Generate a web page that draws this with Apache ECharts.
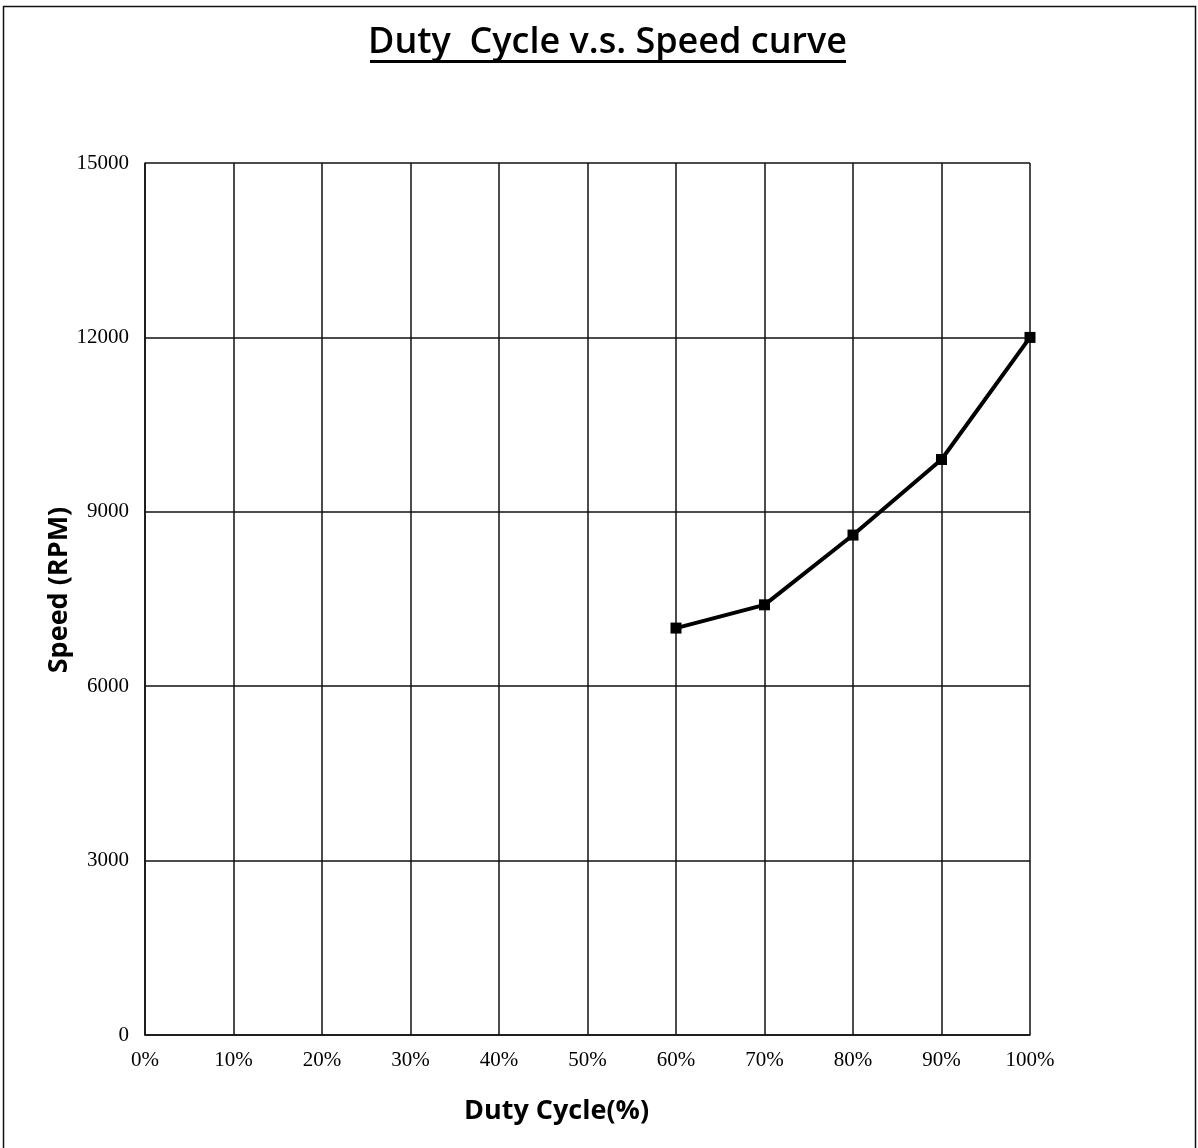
<!DOCTYPE html>
<html>
<head>
<meta charset="utf-8">
<script src="https://cdn.jsdelivr.net/npm/echarts@6/dist/echarts.min.js"></script>
<style>
html,body{margin:0;padding:0;background:#fff;}
#chart{width:1198px;height:1148px;}
</style>
</head>
<body>
<div id="chart"></div>
<script>
const titleText = 'Duty  Cycle v.s. Speed curve';
const xName = 'Duty Cycle(%)';
const yName = 'Speed (RPM)';
const dutyCycle = [60, 70, 80, 90, 100];
const speedRPM = [7000, 7400, 8600, 9900, 12000];
const xTicks = [0, 10, 20, 30, 40, 50, 60, 70, 80, 90, 100];
const yTicks = [0, 3000, 6000, 9000, 12000, 15000];

const chart = echarts.init(document.getElementById('chart'));
const seriesData = dutyCycle.map((d, i) => [d, speedRPM[i]]);
const tickFont = {fontFamily: 'Liberation Serif', fontSize: 21, color: '#000'};
const nameFont = {fontFamily: 'Open Sans', fontWeight: 'bold', fontSize: 27, color: '#000'};

chart.setOption({
  backgroundColor: '#fff',
  animation: false,
  title: {
    text: titleText,
    left: 368,
    top: 25,
    padding: 0,
    textStyle: {fontFamily: 'Open Sans', fontWeight: 600, fontSize: 36, color: '#000'}
  },
  graphic: [
    {type: 'rect', shape: {x: 3.5, y: 6.5, width: 1192, height: 1170}, style: {fill: 'none', stroke: '#111', lineWidth: 1.5}, silent: true},
    {type: 'rect', shape: {x: 370, y: 60, width: 476, height: 3}, style: {fill: '#000'}, silent: true}
  ],
  grid: {left: 145, right: 168, top: 163, bottom: 113, containLabel: false},
  xAxis: {
    type: 'value',
    min: xTicks[0],
    max: xTicks[xTicks.length - 1],
    interval: 10,
    name: xName,
    nameLocation: 'middle',
    nameGap: 63,
    nameTextStyle: Object.assign({}, nameFont, {padding: [0, 62, 0, 0]}),
    axisLine: {show: true, lineStyle: {color: '#111', width: 1.5}},
    axisTick: {show: false},
    splitLine: {show: true, lineStyle: {color: '#111', width: 1.5}},
    axisLabel: Object.assign({}, tickFont, {margin: 15, formatter: v => v + '%'})
  },
  yAxis: {
    type: 'value',
    min: yTicks[0],
    max: yTicks[yTicks.length - 1],
    interval: 3000,
    name: yName,
    nameLocation: 'middle',
    nameGap: 72,
    nameMoveOverlap: false,
    nameTextStyle: Object.assign({}, nameFont, {padding: [0, 0, 0, 18]}),
    axisLine: {show: true, lineStyle: {color: '#111', width: 1.5}},
    axisTick: {show: false},
    splitLine: {show: true, lineStyle: {color: '#111', width: 1.5}},
    axisLabel: Object.assign({}, tickFont, {margin: 16, formatter: v => String(v)})
  },
  series: [{
    type: 'line',
    data: seriesData,
    symbol: 'rect',
    symbolSize: 11,
    lineStyle: {color: '#000', width: 4},
    itemStyle: {color: '#000'},
    z: 5
  }]
});
</script>
</body>
</html>
